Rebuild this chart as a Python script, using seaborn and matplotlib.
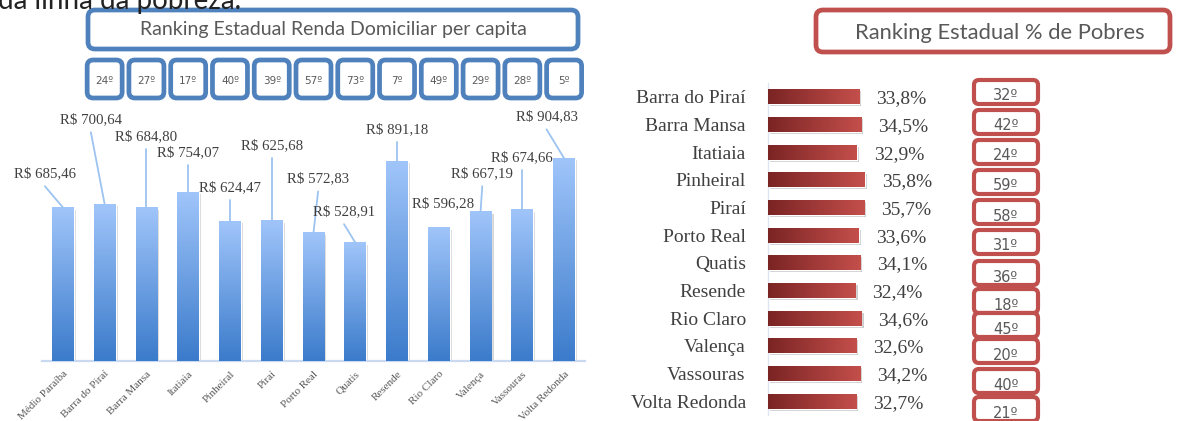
import numpy as np
import matplotlib
matplotlib.use("Agg")
import matplotlib.pyplot as plt
import matplotlib.transforms as mtransforms
import matplotlib.patheffects as pe
from matplotlib.colors import LinearSegmentedColormap
from matplotlib.patches import FancyBboxPatch
import seaborn as sns

# ---- data: renda domiciliar per capita ----
municipios = ["Médio Paraíba", "Barra do Piraí", "Barra Mansa", "Itatiaia", "Pinheiral",
              "Piraí", "Porto Real", "Quatis", "Resende", "Rio Claro", "Valença",
              "Vassouras", "Volta Redonda"]
renda = [685.46, 700.64, 684.80, 754.07, 624.47, 625.68, 572.83, 528.91,
         891.18, 596.28, 667.19, 674.66, 904.83]
# ranking estadual (no rank for the region, Médio Paraíba)
ranking_renda = ["24º", "27º", "17º", "40º", "39º", "57º", "73º", "7º",
                 "49º", "29º", "28º", "5º"]

# ---- data: % de pobres ----
municipios_pobres = ["Barra do Piraí", "Barra Mansa", "Itatiaia", "Pinheiral", "Piraí",
                     "Porto Real", "Quatis", "Resende", "Rio Claro", "Valença",
                     "Vassouras", "Volta Redonda"]
pct_pobres = [33.8, 34.5, 32.9, 35.8, 35.7, 33.6, 34.1, 32.4, 34.6, 32.6, 34.2, 32.7]
ranking_pobres = ["32º", "42º", "24º", "59º", "58º", "31º", "36º", "18º",
                  "45º", "20º", "40º", "21º"]

# label placement for the column chart (x offset in bar units, y in R$ units)
label_dx = [-0.43, -0.33, 0, 0, 0, 0, 0.11, -0.27, 0, 0.11, 0.04, 0, -0.42]
label_y = [835, 1076, 1001, 929, 772, 960, 812, 666, 1031, 701, 835, 906, 1089]
# red ranking boxes: top edge in pixels
rank_box_top = [80, 110, 140, 170, 200, 230, 261, 289, 313, 339, 369, 397]

W, H = 1180, 421
BLUE = "#4F81BD"
RED = "#C0504D"
TXT = "#404040"
BOXTXT = "#595959"
SERIF = "Liberation Serif"
ORD = ["DejaVu Sans"]

sns.set_theme(style="white")
plt.rcParams["font.family"] = ["Lato", "DejaVu Sans"]

fig = plt.figure(figsize=(W / 100, H / 100), dpi=100)
px = mtransforms.Affine2D().scale(1 / W, -1 / H).translate(0, 1) + fig.transFigure


def rounded_box(x0, y0, x1, y1, color, lw, r):
    box = FancyBboxPatch((x0, y0), x1 - x0, y1 - y0,
                         boxstyle=f"round,pad=0,rounding_size={r}",
                         transform=px, facecolor="white", edgecolor=color, lw=lw)
    fig.add_artist(box)


# ---------------- left: column chart ----------------
ax = fig.add_axes([42 / W, 60 / H, 543 / W, 361 / H])
sns.barplot(x=municipios, y=renda, ax=ax, color="#6C9BE0", width=0.52, saturation=1)
ax.set_xlim(-0.5, 12.5)
ax.set_ylim(0, 361 / 0.224)

blue_cmap = LinearSegmentedColormap.from_list("b", ["#3B7BCB", "#A0C5FA"])
grad_v = np.linspace(0, 1, 256).reshape(-1, 1)
for p in ax.patches:
    p.set_path_effects([pe.SimplePatchShadow(offset=(1.5, -1.5), shadow_rgbFace="k", alpha=0.18),
                        pe.Normal()])
    ax.imshow(grad_v, cmap=blue_cmap, origin="lower", aspect="auto", zorder=3,
              extent=[p.get_x(), p.get_x() + p.get_width(), 0, p.get_height()])
ax.set_xlim(-0.5, 12.5)
ax.set_ylim(0, 361 / 0.224)
ax.set_aspect("auto")

for i, v in enumerate(renda):
    lx = i + label_dx[i]
    ax.text(lx, label_y[i], f"R$ {v:.2f}".replace(".", ","), ha="center", va="center",
            family=SERIF, fontsize=10.7, color=TXT, clip_on=False, zorder=5)
    start = label_y[i] - 55
    if start - v > 60:
        ax.plot([lx, i], [start, v], color="#9DC3F0", lw=1.3, zorder=4, clip_on=False)

for s in ["top", "right", "left"]:
    ax.spines[s].set_visible(False)
ax.spines["bottom"].set_color("#C9DAF0")
ax.spines["bottom"].set_linewidth(1.6)
ax.set_yticks([])
ax.set_xlabel("")
ax.tick_params(axis="x", length=0, pad=6)
ax.set_xticks(range(len(municipios)))
ax.set_xticklabels(municipios, rotation=45, ha="right", va="top", rotation_mode="anchor",
                   family=SERIF, fontsize=8, color=BOXTXT)

# header boxes over the columns
rounded_box(88, 10, 578, 49, BLUE, 3.4, 7)
fig.text(333 / W, 1 - 30 / H, "Ranking Estadual Renda Domiciliar per capita",
         ha="center", va="center", fontsize=14, color=BOXTXT)
fig.canvas.draw()
for p, rk in zip(ax.patches[1:], ranking_renda):
    xc = ax.transData.transform((p.get_x() + p.get_width() / 2, 0))[0]
    rounded_box(xc - 17.5, 60, xc + 17.5, 98, BLUE, 3.4, 6)
    fig.text(xc / W, 1 - 81 / H, rk, ha="center", va="center", fontsize=7.5,
             family=ORD, color=BOXTXT)

# cut-off sentence at the very top
fig.text(-2 / W, 1 - 9 / H, "da linha da pobreza.", ha="left", va="baseline",
         fontsize=20, color="#222222")

# ---------------- right: horizontal bars ----------------
ax2 = fig.add_axes([768 / W, 6 / H, 412 / W, 332 / H])
sns.barplot(x=pct_pobres, y=municipios_pobres, orient="h", ax=ax2, color="#A23A38",
            width=0.54, saturation=1)
xmax = 412 / 2.7
ax2.set_xlim(0, xmax)
ax2.set_ylim(11.5, -0.5)

red_cmap = LinearSegmentedColormap.from_list("r", ["#7A2424", "#C44F4B"])
grad_h = np.linspace(0, 1, 256).reshape(1, -1)
for p in ax2.patches:
    p.set_path_effects([pe.SimplePatchShadow(offset=(1.5, -1.5), shadow_rgbFace="k", alpha=0.22),
                        pe.Normal()])
    ax2.imshow(grad_h, cmap=red_cmap, origin="lower", aspect="auto", zorder=3,
               extent=[0, p.get_width(), p.get_y(), p.get_y() + p.get_height()])
ax2.set_xlim(0, xmax)
ax2.set_ylim(11.5, -0.5)
ax2.set_aspect("auto")

for i, v in enumerate(pct_pobres):
    ax2.text(v + 6.3, i + 0.07, f"{v:.1f}%".replace(".", ","), ha="left", va="center",
             family=SERIF, fontsize=14, color=TXT)

for s in ["top", "right", "bottom"]:
    ax2.spines[s].set_visible(False)
ax2.spines["left"].set_color("#DCE6F2")
ax2.spines["left"].set_linewidth(1)
ax2.set_xticks([])
ax2.set_xlabel("")
ax2.set_ylabel("")
ax2.tick_params(axis="y", length=0, pad=16)
for t in ax2.get_yticklabels():
    t.set_family(SERIF)
    t.set_fontsize(14)
    t.set_color(TXT)

rounded_box(816, 10, 1170, 52, RED, 3.4, 7)
fig.text(1000 / W, 1 - 33 / H, "Ranking Estadual % de Pobres", ha="center", va="center",
         fontsize=15.8, color=BOXTXT)
for top, rk in zip(rank_box_top, ranking_pobres):
    rounded_box(974, top, 1038, top + 24, RED, 3.0, 5)
    fig.text(1006 / W, 1 - (top + 16) / H, rk, ha="center", va="center",
             fontsize=10.5, family=ORD, color=BOXTXT)

fig.savefig("out.png", dpi=100)
